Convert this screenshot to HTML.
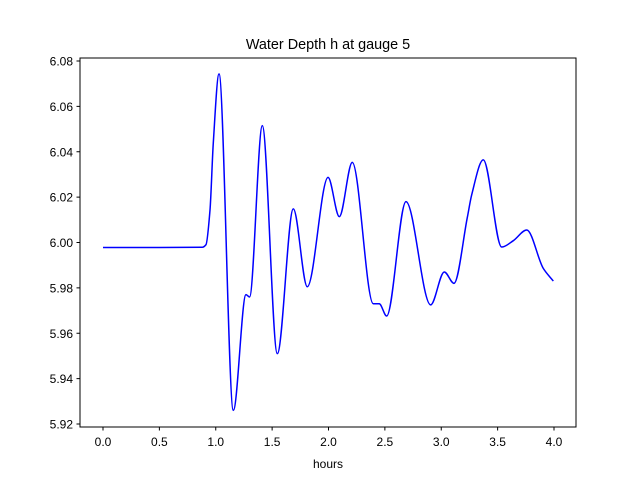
<!DOCTYPE html>
<html><head><meta charset="utf-8"><style>
body{margin:0;background:#fff;}
svg text{font-family:"Liberation Sans","DejaVu Sans",sans-serif;font-size:12px;fill:#000;}
</style></head><body>
<svg id="chart" width="640" height="480">
<rect width="640" height="480" fill="#fff"/>
<text x="328" y="49" text-anchor="middle" style="font-size:14.4px">Water Depth h at gauge 5</text>
<g id="plot"></g>
<rect x="80" y="58" width="496" height="369" fill="none" stroke="#000" stroke-width="1"/>
<text x="328" y="468" text-anchor="middle">hours</text>
</svg>
<script>
const hours=[0,0.5,0.88,0.913,0.949,0.978,1.029,1.156,1.268,1.30,1.413,1.546,1.688,1.812,1.996,2.096,2.211,2.397,2.45,2.516,2.687,2.906,3.027,3.113,3.231,3.27,3.373,3.536,3.639,3.758,3.905,3.994];
const depth=[5.9978,5.9978,5.9979,5.999,6.0143,6.0437,6.0743,5.926,5.977,5.976,6.0515,5.951,6.0148,5.9805,6.0287,6.0114,6.0353,5.973,5.973,5.9676,6.018,5.9725,5.987,5.982,6.011,6.021,6.0364,5.998,6.0008,6.0055,5.9886,5.983];
const xTicks=[0,0.5,1,1.5,2,2.5,3,3.5,4];
const xTickLabels=["0.0","0.5","1.0","1.5","2.0","2.5","3.0","3.5","4.0"];
const yTicks=[5.92,5.94,5.96,5.98,6.00,6.02,6.04,6.06,6.08];
const yTickLabels=["5.92","5.94","5.96","5.98","6.00","6.02","6.04","6.06","6.08"];
const sx=h=>103+h*112.75;
const sy=v=>61+(6.08-v)*2268.75;
const NS="http://www.w3.org/2000/svg";
const g=document.getElementById('plot');
xTicks.forEach((t,i)=>{
 const l=document.createElementNS(NS,'line');
 l.setAttribute('x1',sx(t));l.setAttribute('x2',sx(t));l.setAttribute('y1',427);l.setAttribute('y2',430.5);l.setAttribute('stroke','#000');
 
 
 g.appendChild(l);
 const tx=document.createElementNS(NS,'text');
 tx.setAttribute('x',sx(t));tx.setAttribute('y',446);tx.setAttribute('text-anchor','middle');tx.textContent=xTickLabels[i];
 
 
 g.appendChild(tx);
});
yTicks.forEach((t,i)=>{
 const l=document.createElementNS(NS,'line');
 l.setAttribute('x1',76.5);l.setAttribute('x2',80);l.setAttribute('y1',sy(t));l.setAttribute('y2',sy(t));l.setAttribute('stroke','#000');
 
 
 g.appendChild(l);
 const tx=document.createElementNS(NS,'text');
 tx.setAttribute('x',73);tx.setAttribute('y',sy(t)+4.5);tx.setAttribute('text-anchor','end');tx.textContent=yTickLabels[i];
 
 
 g.appendChild(tx);
});
// monotone cubic (Fritsch-Carlson) to avoid overshoot
const X=hours.map(sx),Y=depth.map(sy),n=X.length;
const dk=[],m=[];
for(let i=0;i<n-1;i++)dk.push((Y[i+1]-Y[i])/(X[i+1]-X[i]));
for(let i=0;i<n;i++){
 if(i===0)m.push(dk[0]);else if(i===n-1)m.push(dk[n-2]);
 else if(dk[i-1]*dk[i]<=0)m.push(0);
 else{const w1=2*(X[i+1]-X[i])+(X[i]-X[i-1]),w2=(X[i+1]-X[i])+2*(X[i]-X[i-1]);m.push((w1+w2)/(w1/dk[i-1]+w2/dk[i]));}
}
let d='M'+X[0]+','+Y[0];
for(let i=0;i<n-1;i++){
 const h=(X[i+1]-X[i])/3;
 d+=' C'+(X[i]+h)+','+(Y[i]+m[i]*h)+' '+(X[i+1]-h)+','+(Y[i+1]-m[i+1]*h)+' '+X[i+1]+','+Y[i+1];
}
const path=document.createElementNS(NS,'path');
path.setAttribute('d',d);path.setAttribute('fill','none');path.setAttribute('stroke','#0000ff');path.setAttribute('stroke-width','1.5');


g.appendChild(path);
</script>
</body></html>
